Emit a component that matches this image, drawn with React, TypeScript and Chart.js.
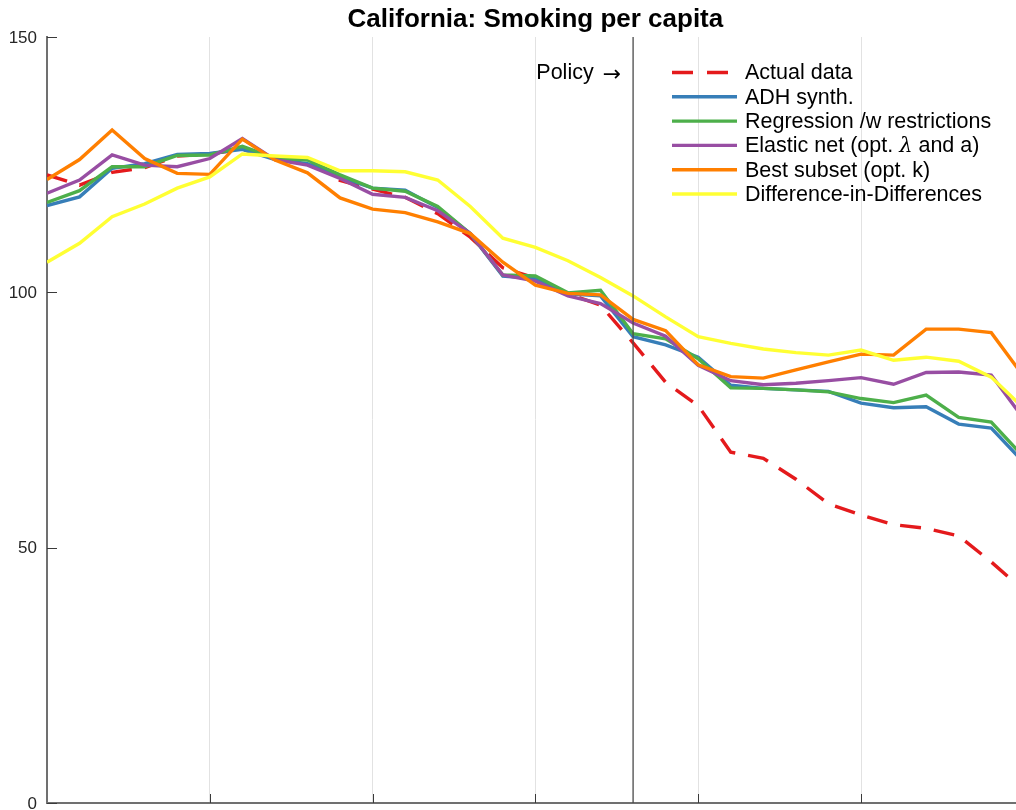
import React, { useEffect, useRef } from "react";
import { Chart, registerables } from "chart.js";

Chart.register(...registerables);

const YEARS = [
  1970, 1971, 1972, 1973, 1974, 1975, 1976, 1977, 1978, 1979, 1980, 1981, 1982, 1983, 1984, 1985,
  1986, 1987, 1988, 1989, 1990, 1991, 1992, 1993, 1994, 1995, 1996, 1997, 1998, 1999, 2000,
];
const ACTUAL = [
  123.0, 121.0, 123.5, 124.4, 126.7, 127.1, 128.0, 126.4, 126.1, 121.9, 120.2, 118.6, 115.4, 110.8, 104.8, 102.8,
  99.7, 97.5, 90.1, 82.4, 77.8, 68.7, 67.5, 63.4, 58.6, 56.4, 54.5, 53.8, 52.3, 47.2, 41.6,
];
const ADH = [
  117.0, 118.7, 124.3, 125.2, 127.0, 127.2, 128.0, 126.0, 125.2, 122.6, 120.4, 120.0, 116.6, 111.5, 103.2, 102.7,
  99.7, 99.3, 91.3, 89.7, 87.3, 81.8, 81.2, 80.9, 80.6, 78.3, 77.4, 77.6, 74.2, 73.4, 66.7,
];
const REGRESSION = [
  117.6, 119.9, 124.6, 124.6, 126.8, 126.9, 128.6, 126.3, 125.9, 123.0, 120.4, 119.8, 116.8, 111.5, 103.4, 103.2,
  99.9, 100.4, 91.9, 90.9, 87.0, 81.3, 81.2, 80.9, 80.5, 79.2, 78.4, 79.9, 75.5, 74.6, 67.7,
];
const ELASTIC = [
  119.4, 122.0, 126.9, 124.9, 124.6, 126.2, 130.1, 126.0, 124.9, 122.3, 119.2, 118.6, 116.0, 111.5, 103.4, 102.2,
  99.3, 97.8, 94.0, 91.4, 85.7, 82.7, 81.9, 82.2, 82.7, 83.3, 82.0, 84.3, 84.4, 83.8, 75.2,
];
const BEST_SUBSET = [
  122.1, 126.0, 131.8, 126.2, 123.3, 123.1, 130.0, 125.9, 123.4, 118.5, 116.3, 115.6, 113.8, 111.5, 105.9, 101.4,
  99.8, 99.5, 94.7, 92.5, 85.8, 83.5, 83.2, 84.8, 86.4, 87.9, 87.7, 92.8, 92.8, 92.1, 83.5,
];
const DID = [
  105.9, 109.6, 114.8, 117.3, 120.4, 122.6, 127.1, 126.7, 126.4, 123.8, 123.8, 123.6, 122.0, 116.8, 110.6, 108.8,
  106.2, 102.9, 99.3, 95.2, 91.3, 90.0, 88.9, 88.2, 87.7, 88.7, 86.7, 87.3, 86.5, 83.4, 77.3,
];

const SERIES_LABELS = [
  "Actual data",
  "ADH synth.",
  "Regression /w restrictions",
  "Elastic net (opt. λ and a)",
  "Best subset (opt. k)",
  "Difference-in-Differences",
];
const SERIES_COLORS = ["#e41a1c", "#377eb8", "#4daf4a", "#984ea3", "#ff7f00", "#ffff33"];
const SERIES_VALUES = [ACTUAL, ADH, REGRESSION, ELASTIC, BEST_SUBSET, DID];

const Y_TICKS = [0, 50, 100, 150];
const X_GRID_STEP = 5;
const POLICY_YEAR = 1988;
const TITLE = "California: Smoking per capita";
const POLICY_WORD = "Policy";
const POLICY_ARROW = "→";

const FONT = "'Liberation Sans', Arial, Helvetica, sans-serif";
const LINE_W = 3.4;

function toPoints(values: number[]) {
  return YEARS.map((y, i) => ({ x: y, y: values[i] }));
}

export default function App() {
  const ref = useRef<HTMLCanvasElement | null>(null);

  useEffect(() => {
    document.body.style.margin = "0";
    const canvas = ref.current;
    if (!canvas) return;

    const datasets: any[] = SERIES_VALUES.map((vals, i) => ({
      label: SERIES_LABELS[i],
      data: toPoints(vals),
      borderColor: SERIES_COLORS[i],
      backgroundColor: SERIES_COLORS[i],
      borderWidth: LINE_W,
      borderDash: i === 0 ? [21, 13] : [],
      pointRadius: 0,
      tension: 0,
      fill: false,
      order: SERIES_VALUES.length - i + 1,
    }));
    datasets.push({
      label: "__policy",
      data: [
        { x: POLICY_YEAR, y: Y_TICKS[0] },
        { x: POLICY_YEAR, y: Y_TICKS[Y_TICKS.length - 1] },
      ],
      borderColor: "#4a4a4a",
      borderWidth: 1.3,
      pointRadius: 0,
      fill: false,
      order: 0,
    });

    const decor = {
      id: "decor",
      afterDraw(chart: any) {
        const ctx = chart.ctx;
        const xs = chart.scales.x;
        const ys = chart.scales.y;
        const area = chart.chartArea;
        ctx.save();
        // inner tick marks
        ctx.strokeStyle = "#3a3a3a";
        ctx.lineWidth = 1;
        ctx.beginPath();
        Y_TICKS.forEach((v) => {
          const py = Math.round(ys.getPixelForValue(v)) + 0.5;
          ctx.moveTo(area.left, py);
          ctx.lineTo(area.left + 10, py);
        });
        for (let yr = YEARS[0] + X_GRID_STEP; yr <= YEARS[YEARS.length - 1]; yr += X_GRID_STEP) {
          const px = Math.round(xs.getPixelForValue(yr)) + 0.5;
          ctx.moveTo(px, area.bottom);
          ctx.lineTo(px, area.bottom - 9);
        }
        ctx.stroke();
        // y tick labels
        ctx.fillStyle = "#262626";
        ctx.font = `17px ${FONT}`;
        ctx.textAlign = "right";
        ctx.textBaseline = "middle";
        Y_TICKS.forEach((v) => {
          ctx.fillText(String(v), area.left - 10, ys.getPixelForValue(v) + 1);
        });
        // title
        const cx = (xs.getPixelForValue(YEARS[0]) + xs.getPixelForValue(YEARS[YEARS.length - 1])) / 2;
        ctx.fillStyle = "#000";
        ctx.font = `bold 26px ${FONT}`;
        ctx.textAlign = "center";
        ctx.textBaseline = "alphabetic";
        ctx.fillText(TITLE, cx, 26.5);
        // policy label
        const pRight = xs.getPixelForValue(POLICY_YEAR) - 12;
        ctx.textBaseline = "middle";
        ctx.textAlign = "right";
        ctx.font = `22px 'DejaVu Sans', ${FONT}`;
        const arrowW = ctx.measureText(POLICY_ARROW).width;
        ctx.fillText(POLICY_ARROW, pRight, 75);
        ctx.font = `21.5px ${FONT}`;
        ctx.fillText(POLICY_WORD, pRight - arrowW - 9, 73);
        // legend
        const lx0 = 672;
        const lx1 = 737;
        const tx = 745;
        const y0 = 72.5;
        const dy = 24.3;
        SERIES_LABELS.forEach((lab, i) => {
          const y = y0 + dy * i;
          ctx.strokeStyle = SERIES_COLORS[i];
          ctx.lineWidth = LINE_W;
          ctx.setLineDash(i === 0 ? [21, 14] : []);
          ctx.beginPath();
          ctx.moveTo(lx0, y);
          ctx.lineTo(lx1, y);
          ctx.stroke();
          ctx.setLineDash([]);
          ctx.fillStyle = "#000";
          ctx.textAlign = "left";
          ctx.textBaseline = "middle";
          const parts = lab.split("λ");
          let x = tx;
          parts.forEach((p, k) => {
            ctx.font = `21.5px ${FONT}`;
            ctx.fillText(p, x, y + 1);
            x += ctx.measureText(p).width;
            if (k < parts.length - 1) {
              ctx.font = `italic 21px 'DejaVu Serif', 'Liberation Serif', serif`;
              ctx.fillText("λ", x, y + 1);
              x += ctx.measureText("λ").width;
            }
          });
        });
        ctx.restore();
      },
    };

    const chart = new Chart(canvas, {
      type: "line",
      data: { datasets },
      options: {
        animation: false,
        responsive: false,
        maintainAspectRatio: false,
        events: [],
        layout: { padding: { left: 0, top: 37, right: 0, bottom: 7 } },
        plugins: {
          legend: { display: false },
          title: { display: false },
          tooltip: { enabled: false },
        },
        scales: {
          x: {
            type: "linear",
            min: YEARS[0],
            max: 1999.76,
            ticks: { display: false, stepSize: X_GRID_STEP },
            afterBuildTicks: (s: any) => {
              s.ticks = s.ticks.filter((t: any) => t.value % X_GRID_STEP === 0);
            },
            afterFit: (s: any) => {
              s.height = 0;
            },
            grid: { display: true, color: "#e2e2e2", lineWidth: 1, drawTicks: false },
            border: { display: true, color: "#707070", width: 2 },
          },
          y: {
            type: "linear",
            min: Y_TICKS[0],
            max: Y_TICKS[Y_TICKS.length - 1],
            ticks: { display: false, stepSize: 50 },
            afterFit: (s: any) => {
              s.width = 47;
            },
            grid: { display: false, drawTicks: false },
            border: { display: true, color: "#707070", width: 2 },
          },
        },
      },
      plugins: [decor],
    });
    return () => chart.destroy();
  }, []);

  return (
    <div style={{ position: "absolute", left: 0, top: 0, width: 1016, height: 810, background: "#fff" }}>
      <canvas ref={ref} width={1016} height={810} style={{ display: "block" }} />
    </div>
  );
}
